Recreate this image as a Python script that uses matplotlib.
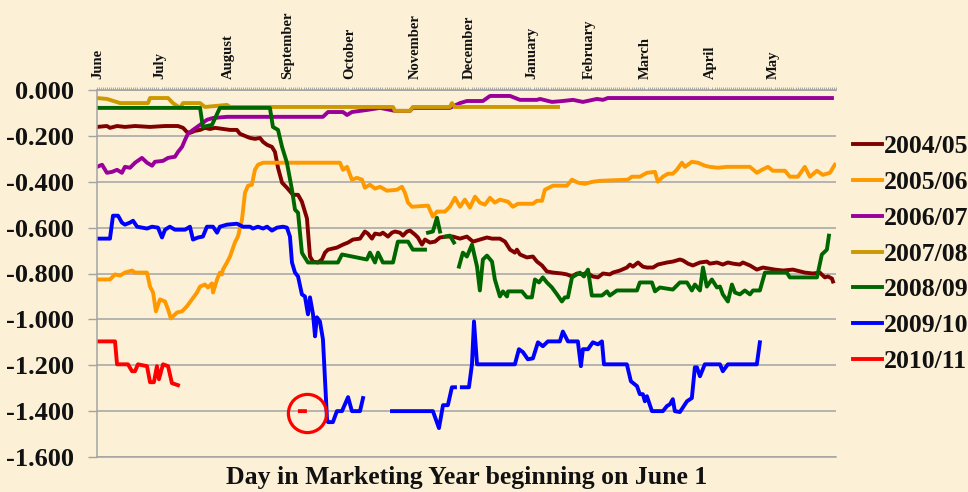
import numpy as np
import matplotlib

matplotlib.use("Agg")
import matplotlib.pyplot as plt
from matplotlib.ticker import MultipleLocator

NAN = np.nan

# ---- data (day of marketing year, value) ----
SEASONS = ["2004/05", "2005/06", "2006/07", "2007/08", "2008/09", "2009/10", "2010/11"]
COLORS = ["#800000", "#FF9900", "#990099", "#CC9900", "#006600", "#0000FF", "#FF0000"]

MONTHS = ["June", "July", "August", "September", "October", "November",
          "December", "January", "February", "March", "April", "May"]
MONTH_DAYS = [0.5, 31, 65, 94, 125, 157, 184, 215, 243, 271, 303, 334]

Y_TICKS = [0.0, -0.2, -0.4, -0.6, -0.8, -1.0, -1.2, -1.4, -1.6]

DAYS_0405 = [0, 4.9, 6.4, 9.9, 13.8, 18.8, 26.2, 33.6, 40, 42.5, 44.4, 45.9, 48.4, 50.9,
             53.3, 55.8, 58.3, 65.7, 69.1, 70.6, 74.1, 75.6, 78, 80.5, 82, 84, 86.4,
             87.9, 89.4, 91.4, 93.8, 96.8, 99.3, 101.2, 102.7, 103.7, 105.2, 106.7,
             109.1, 111.1, 112.6, 114.1, 118.5, 121.5, 124, 126.4, 129.9, 132.3, 133.8,
             135.8, 137.3, 139.8, 141.2, 143.7, 145.7, 147.2, 149.6, 151.1, 153.1, 154.6,
             157, 158.5, 160.5, 162, 164.4, 166.9, 169.4, 172.8, 175.8, 179.3, 182.7,
             185.7, 189.1, 192.6, 195.1, 199, 201.5, 204, 206.4, 207.4, 208.9, 212.3,
             215.3, 217.3, 219.8, 222.2, 225.2, 229.6, 232.1, 234.6, 237, 240, 242,
             244.9, 247.4, 249.9, 253.3, 254.8, 258.3, 261.7, 263.2, 264.7, 267.2,
             269.6, 271.6, 274.6, 277, 281.5, 284.4, 287.9, 289.4, 291.9, 294.3, 297.8,
             301.2, 302.7, 306.2, 309.1, 311.6, 314.1, 317.5, 319, 322.5, 325.9, 328.9,
             331.4, 334.8, 338.8, 343.7, 347.2, 349.6, 353.6, 357, 359.5, 361, 363, 363.5]
VALS_0405 = [-0.161, -0.157, -0.165, -0.157, -0.161, -0.157, -0.161, -0.157, -0.157,
             -0.165, -0.183, -0.187, -0.178, -0.174, -0.165, -0.170, -0.165, -0.174,
             -0.174, -0.191, -0.204, -0.209, -0.213, -0.209, -0.226, -0.239, -0.248,
             -0.270, -0.339, -0.404, -0.426, -0.457, -0.457, -0.487, -0.530, -0.560,
             -0.726, -0.748, -0.752, -0.739, -0.709, -0.696, -0.687, -0.674, -0.665,
             -0.652, -0.648, -0.617, -0.626, -0.648, -0.626, -0.630, -0.622, -0.639,
             -0.622, -0.617, -0.622, -0.635, -0.617, -0.613, -0.630, -0.643, -0.674,
             -0.652, -0.665, -0.661, -0.643, -0.639, -0.639, -0.648, -0.639, -0.661,
             -0.652, -0.643, -0.648, -0.648, -0.661, -0.696, -0.709, -0.696, -0.717,
             -0.730, -0.726, -0.748, -0.765, -0.791, -0.796, -0.800, -0.804, -0.813,
             -0.800, -0.804, -0.796, -0.813, -0.817, -0.800, -0.804, -0.796, -0.787,
             -0.774, -0.761, -0.770, -0.752, -0.770, -0.774, -0.774, -0.761, -0.752,
             -0.748, -0.739, -0.743, -0.757, -0.765, -0.752, -0.748, -0.757, -0.752,
             -0.761, -0.752, -0.757, -0.761, -0.752, -0.765, -0.783, -0.774, -0.778,
             -0.783, -0.787, -0.783, -0.791, -0.796, -0.800, -0.796, -0.817, -0.813,
             -0.822, -0.835]

DAYS_0506 = [0, 6.4, 8.9, 11.4, 13.8, 17.3, 18.8, 24.7, 26.2, 27.7, 29.1, 31.1, 33.6,
             35.1, 36.5, 39.5, 42, 44.4, 46.9, 49.4, 50.9, 53.3, 54.8, 56.8, 57.3, 59.3,
             60.7, 61.7, 62.2, 64.2, 65.7, 68.1, 69.6, 71.6, 73.1, 74.6, 76.5, 78, 79.5,
             82, 120, 121.5, 123.5, 125.9, 128.4, 130.9, 132.3, 134.8, 137.3, 139.8,
             143.2, 148.1, 150.6, 152.1, 153.6, 155.6, 163.5, 165.9, 167.9, 171.9, 174.3,
             176.8, 179.3, 181.7, 184.2, 186.7, 189.1, 191.6, 194.1, 196.5, 199, 203,
             205.4, 207.9, 215.3, 217.3, 219.8, 221.2, 225.2, 232.1, 234.6, 237.5, 241,
             244.9, 248.4, 262.2, 264.2, 268.1, 271.6, 275.6, 277, 279.5, 282, 284.4,
             286.4, 288.9, 290.4, 293.8, 296.8, 300.2, 302.7, 306.7, 311.1, 322.5, 325.9,
             328.4, 331.4, 333.8, 339.8, 342.2, 346.2, 349.6, 352.1, 355.6, 358.5, 362,
             364.4]
VALS_0506 = [-0.826, -0.826, -0.804, -0.809, -0.796, -0.787, -0.796, -0.796, -0.857,
             -0.883, -0.965, -0.913, -0.922, -0.957, -0.996, -0.970, -0.965, -0.943,
             -0.913, -0.883, -0.857, -0.848, -0.861, -0.843, -0.883, -0.826, -0.796,
             -0.804, -0.783, -0.752, -0.726, -0.665, -0.639, -0.565, -0.448, -0.417,
             -0.413, -0.348, -0.326, -0.317, -0.317, -0.348, -0.335, -0.391, -0.383,
             -0.391, -0.426, -0.413, -0.430, -0.422, -0.439, -0.435, -0.422, -0.448,
             -0.491, -0.509, -0.504, -0.552, -0.530, -0.530, -0.509, -0.470, -0.509,
             -0.478, -0.513, -0.465, -0.491, -0.500, -0.470, -0.491, -0.478, -0.487,
             -0.509, -0.496, -0.496, -0.483, -0.483, -0.435, -0.417, -0.417, -0.391,
             -0.404, -0.409, -0.400, -0.396, -0.391, -0.378, -0.378, -0.361, -0.357,
             -0.400, -0.378, -0.365, -0.365, -0.348, -0.317, -0.335, -0.313, -0.317,
             -0.330, -0.335, -0.339, -0.335, -0.335, -0.361, -0.348, -0.335, -0.352,
             -0.352, -0.378, -0.378, -0.335, -0.378, -0.352, -0.370, -0.361, -0.326]

DAYS_0607 = [0, 2.5, 4.9, 7.4, 9.9, 12.3, 13.8, 16.3, 18.8, 22.2, 24.7, 27.2, 28.6,
             32.6, 35.1, 38.5, 40, 42, 43.5, 44.9, 47.4, 50.9, 54.3, 57.3, 64.2, 111.6,
             114.1, 121.5, 123.5, 125.9, 133.3, 139.8, 147.2, 154.6, 156, 174.3, 179.3,
             182.7, 190.6, 194.1, 204, 208.9, 217.3, 218.8, 224.7, 230.1, 235.1, 240,
             246.9, 249.9, 252.3, 363]
VALS_0607 = [-0.335, -0.326, -0.361, -0.357, -0.348, -0.361, -0.335, -0.339, -0.317,
             -0.296, -0.317, -0.330, -0.313, -0.309, -0.296, -0.291, -0.270, -0.248,
             -0.217, -0.191, -0.174, -0.152, -0.130, -0.122, -0.117, -0.117, -0.096,
             -0.096, -0.109, -0.096, -0.087, -0.078, -0.091, -0.091, -0.078, -0.078,
             -0.057, -0.048, -0.048, -0.026, -0.026, -0.043, -0.043, -0.039, -0.052,
             -0.048, -0.043, -0.052, -0.039, -0.043, -0.035, -0.035]

DAYS_0708 = [0, 4.9, 6.4, 11.4, 25.2, 26.2, 35.1, 37.5, 41, 42.5, 50.9, 53.3, 64.2,
             65.7, 146.2, 147.2, 154.6, 156, 174.3, 175.3, 176.8, 227.7]
VALS_0708 = [-0.035, -0.039, -0.043, -0.057, -0.057, -0.035, -0.035, -0.057, -0.078,
             -0.057, -0.057, -0.074, -0.065, -0.074, -0.074, -0.091, -0.091, -0.074,
             -0.074, -0.057, -0.074, -0.074]

DAYS_0809 = [0, 50.9, 52.3, 56.8, 60.7, 85.4, 86.9, 89.4, 91.4, 93.8, 96.3, 97.8, 99.3,
             101.2, 101.7, 104.2, 119, 121, 133.3, 134.8, 137.3, 138.8, 141.2, 146.2,
             148.6, 153.6, 156, 162, NAN, 163.5, 165.9, 167.9, 169.4, NAN, 171.9, 174.3,
             176.3, NAN, 178.8, 180.7, 182.7, 185.2, 187.7, 189.1, 190.6, 192.6, 195.1,
             196.5, 199, 200.5, 202.5, 203, 209.9, 212.3, 214.8, 216.3, 218.3, 220.2,
             222.2, 224.7, 227.2, 229.6, 231.1, 232.6, 234.6, 237, 238.5, 240.5, 242.5,
             244.4, 249.4, 251.9, 253.3, 256.8, 266.7, 268.1, 274.1, 275.6, 278, 284.4,
             287.9, 291.4, 293.8, 295.3, 297.8, 299.3, 301.2, 303.7, 306.2, 307.7, 309.1,
             311.6, 313.6, 315.1, 317.5, 320, 322.5, 324, 327.4, 329.9, 340.7, 342.2,
             355.6, 358, 360.5, 361.5]
VALS_0809 = [-0.078, -0.078, -0.161, -0.152, -0.078, -0.078, -0.161, -0.174, -0.248,
             -0.317, -0.435, -0.522, -0.535, -0.709, -0.717, -0.752, -0.752, -0.717,
             -0.739, -0.709, -0.752, -0.709, -0.752, -0.752, -0.661, -0.661, -0.696,
             -0.696, NAN, -0.622, -0.617, -0.557, -0.617, NAN, -0.639, -0.635, -0.665,
             NAN, -0.770, -0.709, -0.726, -0.674, -0.770, -0.874, -0.739, -0.722,
             -0.748, -0.826, -0.900, -0.878, -0.900, -0.878, -0.878, -0.904, -0.904,
             -0.826, -0.839, -0.817, -0.839, -0.861, -0.891, -0.922, -0.904, -0.904,
             -0.817, -0.804, -0.796, -0.813, -0.783, -0.896, -0.896, -0.878, -0.896,
             -0.874, -0.874, -0.839, -0.839, -0.878, -0.861, -0.870, -0.839, -0.839,
             -0.874, -0.848, -0.874, -0.774, -0.857, -0.826, -0.861, -0.857, -0.891,
             -0.922, -0.848, -0.883, -0.891, -0.874, -0.891, -0.874, -0.874, -0.796,
             -0.796, -0.817, -0.817, -0.717, -0.696, -0.635]

DAYS_0910 = [0, 6.4, 7.9, 10.4, 12.3, 13.8, 16.3, 17.8, 19.8, 24.7, 27.2, 30.1, 32.1,
             33.6, 36, 38.5, 43.5, 45.9, 47.4, 49.9, 52.3, 54.3, 57.3, 59.3, 60.7, 64.2,
             69.1, 72.1, 75.6, 77, 79.5, 82, 84, 86.4, 88.9, 91.9, 93.8, 95.3, 96.3,
             97.8, 99.3, 101.2, 102.7, 104.2, 105.2, 106.7, 107.7, 108.6, 110.1, 111.6,
             113.6, 114.1, 116.5, 118.5, 121, 124, 125.9, 129.9, 131.4, NAN, 145.7, 165.9,
             168.9, 170.9, 173.3, 175.3, 176.8, NAN, 180.2, 183.7, 185.2, 186.2, 187.7,
             206.4, 208.4, 210.4, 212.8, 215.3, 217.8, 220.2, 222.7, 228.6, 230.1, 232.6,
             237.5, 239, 240, 242.5, 244.9, 247.4, 249.4, 250.4, 261.7, 263.7, 266.7,
             268.1, 269.6, 270.6, 271.6, 274.1, 279.5, 281.5, 283, 284.4, 285.4, 287.9,
             291.4, 293.8, 295.3, 296.3, 297.8, 300.2, 307.7, 309.1, 311.6, 325.9, 327.4]
VALS_0910 = [-0.648, -0.648, -0.548, -0.548, -0.578, -0.587, -0.578, -0.570, -0.596,
             -0.604, -0.596, -0.600, -0.643, -0.609, -0.596, -0.609, -0.609, -0.596,
             -0.652, -0.643, -0.639, -0.596, -0.596, -0.622, -0.596, -0.587, -0.583,
             -0.596, -0.596, -0.604, -0.596, -0.604, -0.596, -0.613, -0.600, -0.596,
             -0.600, -0.639, -0.752, -0.796, -0.813, -0.891, -0.900, -0.978, -0.904,
             -0.978, -1.074, -0.991, -1.009, -1.087, -1.435, -1.448, -1.448, -1.400,
             -1.400, -1.339, -1.400, -1.400, -1.343, NAN, -1.400, -1.400, -1.474, -1.374,
             -1.374, -1.296, -1.296, NAN, -1.296, -1.296, -1.196, -1.009, -1.196, -1.196,
             -1.130, -1.143, -1.174, -1.170, -1.100, -1.117, -1.096, -1.096, -1.053,
             -1.096, -1.096, -1.204, -1.130, -1.130, -1.100, -1.109, -1.096, -1.196,
             -1.196, -1.270, -1.291, -1.326, -1.326, -1.357, -1.335, -1.400, -1.400,
             -1.378, -1.370, -1.348, -1.400, -1.404, -1.357, -1.343, -1.209, -1.209,
             -1.248, -1.196, -1.196, -1.226, -1.196, -1.196, -1.100]

DAYS_1011 = [0, 8.9, 9.9, 15.3, 17.3, 18.8, 20.2, 24.7, 26.2, 28.1, 29.6, 30.6, 32.6,
             35.1, 37, 40, NAN, 100.2, 102.7]
VALS_1011 = [-1.096, -1.096, -1.196, -1.196, -1.226, -1.226, -1.196, -1.204, -1.274,
             -1.274, -1.204, -1.261, -1.196, -1.204, -1.278, -1.287, NAN, -1.400, -1.400]

SERIES_DAYS = [DAYS_0405, DAYS_0506, DAYS_0607, DAYS_0708, DAYS_0809, DAYS_0910, DAYS_1011]
SERIES_VALS = [VALS_0405, VALS_0506, VALS_0607, VALS_0708, VALS_0809, VALS_0910, VALS_1011]

# highlighted lone 2010/11 value
HL_DAY, HL_VAL = 103.5, -1.406

BG = "#FCF1D7"
GRID = "#A3A3A3"
INK = "#111111"
FONT = "Liberation Serif"

plt.rcParams["font.family"] = [FONT, "DejaVu Serif"]
plt.rcParams["font.weight"] = "bold"

fig = plt.figure(figsize=(9.68, 4.92), dpi=100, facecolor=BG)
ax = fig.add_axes([97 / 968, 1 - 457 / 492, (836 - 97) / 968, (457 - 90) / 492])
ax.set_facecolor(BG)

for days, vals, name, color in zip(SERIES_DAYS, SERIES_VALS, SEASONS, COLORS):
    ax.plot(np.array(days, dtype=float), np.array(vals, dtype=float),
            color=color, lw=2.8, label=name, solid_joinstyle="round")

ax.plot([HL_DAY], [HL_VAL], marker="o", ms=27.5, mfc="none", mec="#FF0000", mew=2.3)

ax.set_xlim(0, 365)
ax.set_ylim(-1.6, 0)

# y axis
ax.set_yticks(Y_TICKS)
ax.set_yticklabels(["%.3f" % v for v in Y_TICKS], fontsize=19, fontweight="bold", color=INK)
ax.tick_params(axis="y", length=6.5, width=1.0, color=GRID, pad=10)
ax.yaxis.grid(True, color=GRID, lw=1.1)
ax.set_axisbelow(True)

# month labels along the top
ax.xaxis.set_ticks_position("top")
ax.set_xticks(MONTH_DAYS)
ax.set_xticklabels(MONTHS, rotation=90, fontsize=10.5, fontweight="bold", color=INK)
ax.xaxis.set_minor_locator(MultipleLocator(1))
ax.tick_params(axis="x", which="major", length=0, pad=8)
ax.tick_params(axis="x", which="minor", length=2.5, width=0.6, color="#999999")

for side in ("left", "top", "bottom"):
    ax.spines[side].set_color(GRID)
    ax.spines[side].set_linewidth(1.1)
ax.spines["right"].set_visible(False)

fig.text((97 + 836) / 2 / 968, 1 - 484 / 492, "Day in Marketing Year beginning on June 1",
         ha="center", va="baseline", fontsize=18.5, fontweight="bold", color=INK)

leg = ax.legend(loc="upper left", bbox_to_anchor=(853 / 968, 1 - 135 / 492),
                bbox_transform=fig.transFigure, frameon=False, borderpad=0,
                borderaxespad=0, handlelength=1.12, handletextpad=0.1,
                labelspacing=0.5, prop={"family": FONT, "weight": "bold", "size": 18.5})
for t in leg.get_texts():
    t.set_color(INK)

fig.savefig("out.png", dpi=100, facecolor=BG)
